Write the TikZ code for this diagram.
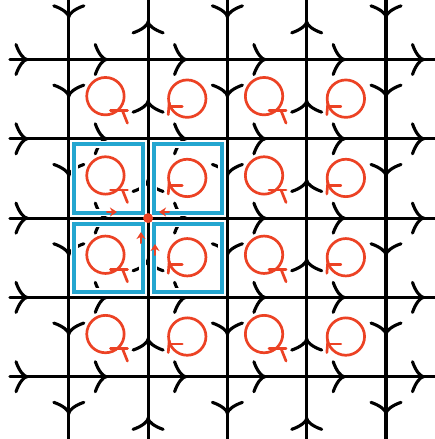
\documentclass[tikz,border=0pt]{standalone}
\usetikzlibrary{arrows.meta}
\definecolor{lred}{RGB}{236,66,36}
\definecolor{lcyan}{RGB}{36,166,208}
\tikzset{
  gridline/.style={line width=3.2pt, black},
  barb/.style={line width=3.1pt, black, line cap=round},
  loopc/.style={line width=2.7pt, lred, line cap=round},
  plaq/.style={line width=4pt, lcyan},
  halo/.style={line width=7.5pt, white},
  redtip/.style={lred, line width=2pt, -{Stealth[length=7pt,width=9pt]}},
  pics/chevR/.style={code={\draw[barb] (-11,-15) .. controls (-8,-6) and (-3,0) .. (0,0) .. controls (-3,0) and (-8,6) .. (-11,15);}},
  pics/chevD/.style={code={\draw[barb] (-15,-11) .. controls (-6,-8) and (0,-3) .. (0,0) .. controls (0,-3) and (6,-8) .. (15,-11);}},
  pics/chevU/.style={code={\draw[barb] (-15,11) .. controls (-6,8) and (0,3) .. (0,0) .. controls (0,3) and (6,8) .. (15,11);}},
  pics/loopQ/.style={code={\draw[loopc] (0,0) circle[radius=18.7]; \draw[loopc] (5,14.5) -- (22,14.5); \draw[loopc] (17,14.5) -- (22,27);}},
  pics/loopM/.style={code={\draw[loopc] (0,0) circle[radius=18.7]; \draw[loopc] (-18,7.5) -- (-5,7.5); \draw[loopc] (-18,4) -- (-19,16);}}
}
\begin{document}
\begin{tikzpicture}[x=1pt,y=-1pt,line cap=round]
\useasboundingbox (0,0) rectangle (435,439);
\fill[white] (0,0) rectangle (435,439);
% chevrons on horizontal lines
\foreach \j in {0,...,4}{
  \foreach \k in {0,...,5}{
    \pgfmathsetmacro\xx{27+79.3*\k}
    \pgfmathsetmacro\yy{59.5+79.3*\j}
    \pic at (\xx,\yy) {chevR};
  }
}
% chevrons on vertical lines
\foreach \i in {0,2,4}{
  \foreach \k in {0,...,5}{
    \pgfmathsetmacro\xx{68.8+79.3*\i}
    \pgfmathsetmacro\yy{19.85+79.3*\k-3}
    \pic at (\xx,\yy) {chevD};
  }
}
\foreach \i in {1,3}{
  \foreach \k in {0,...,5}{
    \pgfmathsetmacro\xx{68.8+79.3*\i}
    \pgfmathsetmacro\yy{19.85+79.3*\k+2}
    \pic at (\xx,\yy) {chevU};
  }
}
% highlighted plaquettes
\foreach \i/\j in {0/1,1/1,0/2,1/2}{
  \pgfmathsetmacro\xa{68.8+79.3*\i+5.5}
  \pgfmathsetmacro\ya{59.5+79.3*\j+5.5}
  \pgfmathsetmacro\xb{68.8+79.3*(\i+1)-5.5}
  \pgfmathsetmacro\yb{59.5+79.3*(\j+1)-5.5}
  \coordinate (pa\i\j) at (\xa,\ya);
  \coordinate (pb\i\j) at (\xb,\yb);
  \draw[halo] (pa\i\j) rectangle (pb\i\j);
  \draw[plaq] (pa\i\j) rectangle (pb\i\j);
}
% grid lines
\foreach \i in {0,...,4}{
  \pgfmathsetmacro\xx{68.8+79.3*\i}
  \coordinate (vt\i) at (\xx,-5);
  \coordinate (vb\i) at (\xx,445);
  \draw[gridline] (vt\i) -- (vb\i);
}
\foreach \j in {0,...,4}{
  \pgfmathsetmacro\yy{59.5+79.3*\j}
  \coordinate (hl\j) at (10,\yy);
  \coordinate (hr\j) at (440,\yy);
  \draw[gridline] (hl\j) -- (hr\j);
}
% red loops
\foreach \i in {0,2}{
  \foreach \j in {0,...,3}{
    \pgfmathsetmacro\cx{108.45+79.3*\i-3}
    \pgfmathsetmacro\cy{99.15+79.3*\j-3}
    \pic at (\cx,\cy) {loopQ};
  }
}
\foreach \i in {1,3}{
  \foreach \j in {0,...,3}{
    \pgfmathsetmacro\cx{108.45+79.3*\i-0.5}
    \pgfmathsetmacro\cy{99.15+79.3*\j-0.5}
    \pic at (\cx,\cy) {loopM};
  }
}
% vertex
\coordinate (ctr) at (148.1,218.1);
\fill[lred] (ctr) circle[radius=5];
\coordinate (r1s) at (107,212); \coordinate (r1e) at (117,212);
\coordinate (r2s) at (169,212); \coordinate (r2e) at (159,212);
\coordinate (r3s) at (141,243); \coordinate (r3e) at (141,232);
\coordinate (r4s) at (155,255); \coordinate (r4e) at (155,244);
\draw[redtip] (r1s) -- (r1e);
\draw[redtip] (r2s) -- (r2e);
\draw[redtip] (r3s) -- (r3e);
\draw[redtip] (r4s) -- (r4e);
\end{tikzpicture}
\end{document}
